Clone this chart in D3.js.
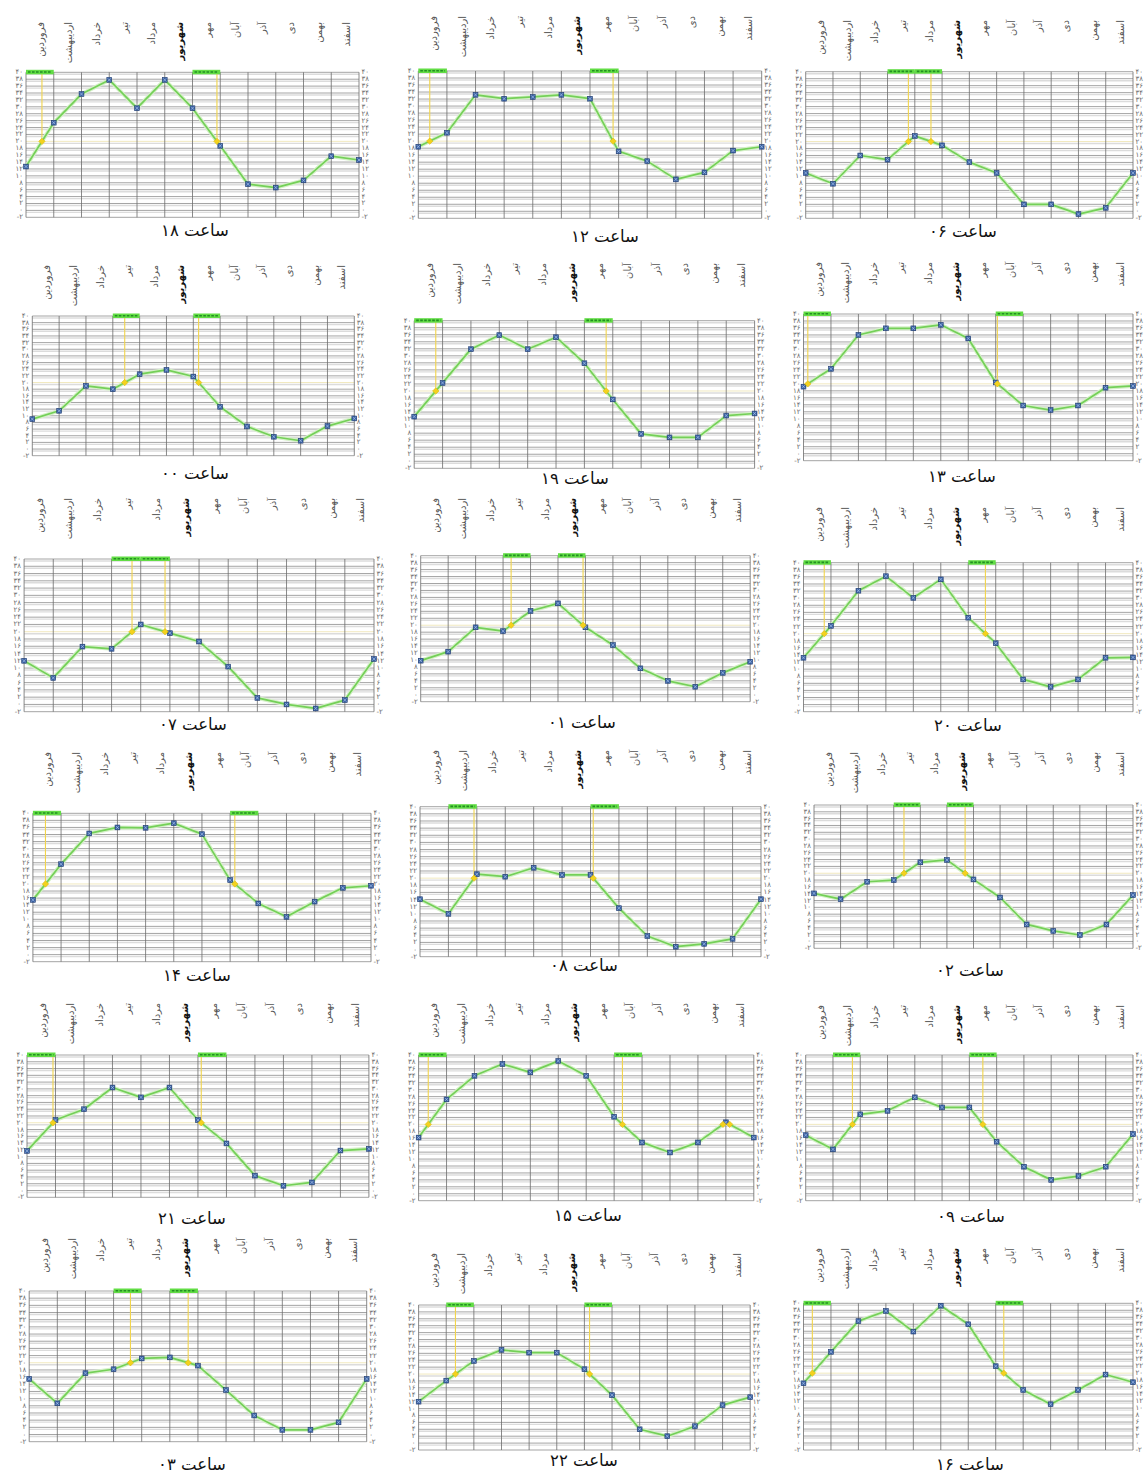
<!DOCTYPE html>
<html>
<head>
<meta charset="utf-8">
<script src="https://cdn.jsdelivr.net/npm/d3@7"></script>
<style>
  body { margin: 0; background: #fff; }
  svg { display: block; }
</style>
</head>
<body>
<svg id="chart" width="1145" height="1477"></svg>
<script>
// Months of the Persian calendar (one column each on the horizontal axis)
const months = ["فروردین", "اردیبهشت", "خرداد", "تیر", "مرداد", "شهریور",
                "مهر", "آبان", "آذر", "دی", "بهمن", "اسفند"];
const highlightedMonth = "شهریور";

// Temperature axis ticks (°C)
const yTicks = [-2, 0, 2, 4, 6, 8, 10, 12, 14, 16, 18, 20, 22, 24, 26, 28, 30, 32, 34, 36, 38, 40];
const threshold = 20;

// Hour labels, in panel order (row by row, left to right)
const hourLabels = ["۱۸", "۱۲", "۰۶", "۰۰", "۱۹", "۱۳", "۰۷", "۰۱", "۲۰",
                    "۱۴", "۰۸", "۰۲", "۲۱", "۱۵", "۰۹", "۰۳", "۲۲", "۱۶"];

// Temperature at each month boundary (13 values per hour)
const h18 = [12.7, 25.4, 33.7, 37.8, 29.6, 37.8, 29.6, 18.7, 7.6, 6.6, 8.7, 15.7, 14.6];
const h12 = [18.4, 22.4, 33.2, 32.1, 32.6, 33.2, 32.1, 17.1, 14.3, 9.1, 11.1, 17.3, 18.4];
const h06 = [11.0, 7.9, 16.0, 14.8, 21.6, 18.9, 14.1, 11.0, 2.0, 2.0, -0.8, 1.0, 11.0];
const h00 = [9.0, 11.5, 19.0, 18.0, 22.5, 23.8, 21.8, 12.7, 6.8, 3.7, 2.5, 6.9, 9.2];
const h19 = [12.7, 22.3, 31.9, 35.9, 31.9, 35.3, 27.9, 17.6, 7.8, 6.8, 6.8, 13.0, 13.6];
const h13 = [19.2, 24.3, 34.0, 35.9, 35.9, 36.9, 33.0, 20.4, 13.8, 12.5, 13.8, 18.9, 19.4];
const h07 = [12.0, 7.3, 15.9, 15.3, 22.0, 19.6, 17.3, 10.4, 1.8, 0.0, -1.1, 1.2, 12.5];
const h01 = [9.8, 12.4, 19.4, 18.3, 24.1, 26.3, 19.4, 14.3, 7.6, 4.0, 2.3, 6.3, 9.5];
const h20 = [13.2, 22.2, 32.1, 36.2, 30.1, 35.3, 24.5, 17.3, 7.1, 5.0, 7.1, 13.2, 13.3];
const h14 = [15.5, 25.6, 34.3, 36.0, 35.9, 37.2, 34.1, 21.1, 14.5, 10.7, 15.0, 18.9, 19.5];
const h08 = [14.1, 10.0, 21.1, 20.4, 22.9, 20.9, 20.9, 11.6, 3.8, 0.8, 1.6, 3.0, 14.1];
const h02 = [14.1, 12.4, 17.5, 18.0, 23.2, 23.9, 18.2, 12.9, 5.0, 3.1, 1.9, 5.0, 13.6];
const h21 = [11.7, 20.8, 24.0, 30.4, 27.5, 30.4, 20.8, 13.9, 4.4, 1.4, 2.4, 11.8, 12.3];
const h15 = [16.2, 27.2, 34.0, 37.4, 35.0, 38.3, 34.0, 22.2, 14.8, 11.9, 14.8, 20.6, 16.2];
const h09 = [16.9, 12.8, 22.9, 23.9, 27.8, 24.9, 24.9, 15.0, 7.8, 4.0, 5.1, 7.8, 17.2];
const h03 = [15.5, 8.7, 17.1, 18.2, 21.2, 21.5, 19.2, 12.4, 5.3, 1.3, 1.3, 3.4, 15.5];
const h22 = [12.0, 18.1, 23.8, 27.0, 26.2, 26.2, 21.4, 13.9, 4.0, 2.0, 4.9, 11.0, 13.3];
const h16 = [17.1, 26.1, 34.9, 37.8, 31.9, 39.3, 34.0, 22.0, 15.2, 11.1, 15.2, 19.6, 17.4];

const series = [h18, h12, h06, h00, h19, h13, h07, h01, h20,
                h14, h08, h02, h21, h15, h09, h03, h22, h16];

// Plot frame of each small chart: left/right/top/bottom of the grid,
// top of the month labels, and the title anchor
const frames = [
  {l: 26,    r: 359,    t: 72.3,   b: 217.3,  lab: 22,   tx: 195, ty: 236},
  {l: 418.3, r: 761.7,  t: 71,     b: 218.3,  lab: 16,   tx: 605, ty: 242},
  {l: 805.7, r: 1133,   t: 71.7,   b: 218.3,  lab: 20,   tx: 963, ty: 237},
  {l: 32.3,  r: 354.3,  t: 316,    b: 455.7,  lab: 265,  tx: 195, ty: 479},
  {l: 414.2, r: 754.6,  t: 320.7,  b: 468.3,  lab: 263,  tx: 575, ty: 484},
  {l: 803.5, r: 1133,   t: 314,    b: 460.7,  lab: 262,  tx: 962, ty: 482},
  {l: 24.1,  r: 374,    t: 559,    b: 711.7,  lab: 498,  tx: 193, ty: 730},
  {l: 420.7, r: 750.2,  t: 555.7,  b: 701.7,  lab: 498,  tx: 582, ty: 728},
  {l: 803.5, r: 1133,   t: 562.7,  b: 711.7,  lab: 507,  tx: 968, ty: 731},
  {l: 32.9,  r: 371,    t: 813.3,  b: 961.7,  lab: 752,  tx: 197, ty: 981},
  {l: 420,   r: 761,    t: 806.7,  b: 956.7,  lab: 750,  tx: 584, ty: 971},
  {l: 814,   r: 1133,   t: 805,    b: 948.3,  lab: 752,  tx: 970, ty: 976},
  {l: 27,    r: 368.9,  t: 1055,   b: 1197.3, lab: 1003, tx: 192, ty: 1224},
  {l: 418.6, r: 753.8,  t: 1055,   b: 1200.7, lab: 1003, tx: 588, ty: 1221},
  {l: 805.7, r: 1133,   t: 1055,   b: 1200.7, lab: 1005, tx: 971, ty: 1222},
  {l: 29.2,  r: 366.7,  t: 1291,   b: 1441.7, lab: 1238, tx: 192, ty: 1470},
  {l: 418.6, r: 750.2,  t: 1305,   b: 1450,   lab: 1253, tx: 584, ty: 1466},
  {l: 803.5, r: 1133,   t: 1303.3, b: 1450,   lab: 1248, tx: 970, ty: 1470}
];

const faDigits = "۰۱۲۳۴۵۶۷۸۹";
const toFa = v => String(v).replace(/\d/g, d => faDigits[+d]);
const FONT = "DejaVu Sans, sans-serif";

const svg = d3.select("#chart");

series.forEach((temps, k) => {
  const f = frames[k];
  const g = svg.append("g").attr("class", "panel");

  const x = d3.scaleLinear().domain([0, months.length]).range([f.l, f.r]);
  const y = d3.scaleLinear().domain([-2, 40]).range([f.b, f.t]);

  // horizontal grid: a dark rule with a pale band under it
  const hg = g.append("g");
  hg.selectAll("line.band").data(yTicks.filter(v => v > -2)).join("line")
    .attr("class", "band")
    .attr("x1", f.l).attr("x2", f.r)
    .attr("y1", d => y(d) + 2).attr("y2", d => y(d) + 2)
    .attr("stroke", "#dcdcdc").attr("stroke-width", 1.4);
  hg.selectAll("line.rule").data(yTicks).join("line")
    .attr("class", "rule")
    .attr("x1", f.l).attr("x2", f.r)
    .attr("y1", d => y(d)).attr("y2", d => y(d))
    .attr("stroke", d => d === threshold ? "#efe7b8" : "#9a9a9a")
    .attr("stroke-width", 0.9);

  // vertical grid at month boundaries
  g.append("g").selectAll("line").data(d3.range(months.length + 1)).join("line")
    .attr("x1", d => x(d)).attr("x2", d => x(d))
    .attr("y1", f.t).attr("y2", f.b)
    .attr("stroke", "#6c6c6c").attr("stroke-width", 0.8);

  // temperature tick labels on both sides
  const tl = g.append("g")
    .attr("font-family", FONT).attr("font-size", 7).attr("fill", "#6a6a6a");
  tl.selectAll("text.l").data(yTicks).join("text")
    .attr("class", "l")
    .attr("x", f.l - 3).attr("y", d => y(d))
    .attr("text-anchor", "end").attr("dominant-baseline", "central")
    .text(d => toFa(d));
  tl.selectAll("text.r").data(yTicks).join("text")
    .attr("class", "r")
    .attr("x", f.r + 2.5).attr("y", d => y(d))
    .attr("text-anchor", "start").attr("dominant-baseline", "central")
    .text(d => toFa(d));

  // month names, vertical, reading downward
  g.append("g").selectAll("text").data(months).join("text")
    .attr("transform", (d, i) => `translate(${x(i + 0.5) + 1},${f.lab}) rotate(-90)`)
    .attr("text-anchor", "end").attr("dominant-baseline", "central")
    .attr("font-family", FONT).attr("font-size", 10)
    .attr("letter-spacing", 0.8)
    .attr("font-weight", d => d === highlightedMonth ? "bold" : "normal")
    .attr("fill", d => d === highlightedMonth ? "#111" : "#555")
    .text(d => d);

  // where the curve crosses the threshold
  const crossings = [];
  for (let i = 0; i < temps.length - 1; i++) {
    const a = temps[i], b = temps[i + 1];
    if ((a - threshold) * (b - threshold) < 0) {
      const fr = (threshold - a) / (b - a);
      crossings.push({i, pos: i + fr, up: b > a});
    }
  }
  const rise = crossings.find(c => c.up);
  const fall = rise ? crossings.find(c => !c.up && c.pos > rise.pos) : null;
  const flagged = [rise, fall].filter(Boolean);

  // drop lines from the month flag to the crossing
  g.append("g").selectAll("line").data(flagged).join("line")
    .attr("x1", d => x(d.pos)).attr("x2", d => x(d.pos))
    .attr("y1", f.t).attr("y2", y(threshold))
    .attr("stroke", "#f1d44c").attr("stroke-width", 1.1);

  // the temperature curve
  const line = d3.line().x((d, i) => x(i)).y(d => y(d));
  g.append("path").datum(temps)
    .attr("d", line).attr("fill", "none")
    .attr("stroke", "#d5f0c8").attr("stroke-width", 4);
  g.append("path").datum(temps)
    .attr("d", line).attr("fill", "none")
    .attr("stroke", "#74d058").attr("stroke-width", 1.7)
    .attr("stroke-linejoin", "round");

  // point markers
  const mk = g.append("g").selectAll("g").data(temps).join("g")
    .attr("transform", (d, i) => `translate(${x(i)},${y(d)})`);
  mk.append("rect")
    .attr("x", -2.4).attr("y", -2.4).attr("width", 4.8).attr("height", 4.8)
    .attr("fill", "#3a63a6").attr("stroke", "#1f3a70").attr("stroke-width", 0.6);
  mk.append("path")
    .attr("d", "M-1.6,-1.6L1.6,1.6M-1.6,1.6L1.6,-1.6")
    .attr("stroke", "#b9cdef").attr("stroke-width", 0.6);

  // crossing markers
  g.append("g").selectAll("path").data(crossings).join("path")
    .attr("transform", d => `translate(${x(d.pos)},${y(threshold)})`)
    .attr("d", "M0,-3.2L3.2,0L0,3.2L-3.2,0Z")
    .attr("fill", "#f3d21e").attr("stroke", "#d8b000").attr("stroke-width", 0.5);

  // month flags along the top edge
  const fl = g.append("g").selectAll("g").data(flagged).join("g");
  fl.append("rect")
    .attr("x", d => x(d.i)).attr("width", d => x(d.i + 1) - x(d.i))
    .attr("y", f.t - 2.5).attr("height", 4.5)
    .attr("fill", "#62dd45");
  fl.append("line")
    .attr("x1", d => x(d.i) + 2).attr("x2", d => x(d.i + 1) - 2)
    .attr("y1", f.t - 0.3).attr("y2", f.t - 0.3)
    .attr("stroke", "#238f23").attr("stroke-width", 1.6)
    .attr("stroke-dasharray", "2.6,1.4");

  // title
  g.append("text")
    .attr("x", f.tx).attr("y", f.ty)
    .attr("text-anchor", "middle").attr("direction", "rtl")
    .attr("font-family", FONT).attr("font-size", 16.5).attr("fill", "#111")
    .text("ساعت " + hourLabels[k]);
});
</script>
</body>
</html>
